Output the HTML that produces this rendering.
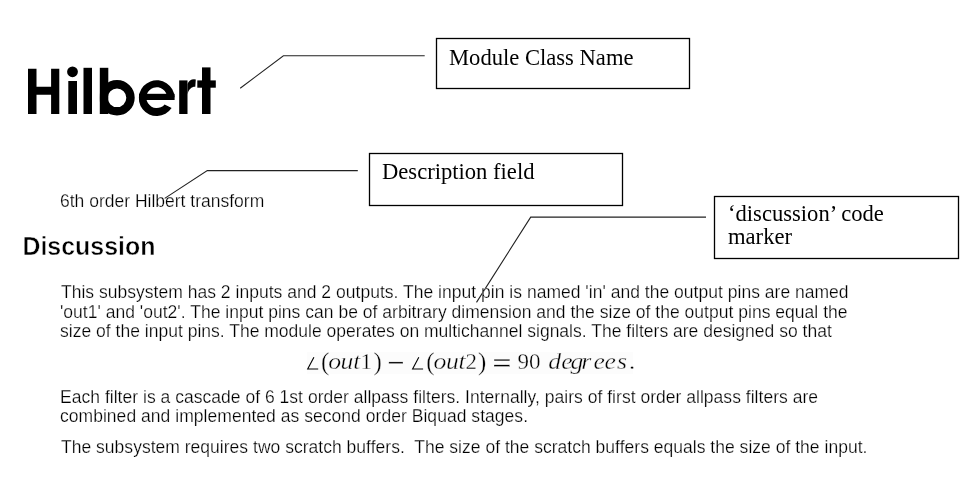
<!DOCTYPE html>
<html><head><meta charset="utf-8">
<style>
html,body{margin:0;padding:0;background:#fff;width:976px;height:492px;overflow:hidden}
svg{display:block;filter:grayscale(1)}
text{white-space:pre}
.s{font-family:"Liberation Sans",sans-serif}
.r{font-family:"Liberation Serif",serif}
</style></head><body>
<svg xml:space="preserve" width="976" height="492" viewBox="0 0 976 492">
<rect width="976" height="492" fill="#fff"/>
<!-- Hilbert title -->
<g fill="#000">
<path d="M28,68.8h8.5v18h14.6v-18h8.2v45.2h-8.2v-19.2h-14.6v19.2h-8.5z"/>
<circle cx="72.5" cy="71.8" r="5.4"/>
<rect x="68.3" y="81" width="8.7" height="33"/>
<rect x="83.5" y="67.8" width="8.5" height="46.2"/>
<rect x="99.8" y="67.8" width="8.5" height="46.2"/>
<clipPath id="cb"><rect x="99.8" y="60" width="40" height="60"/></clipPath><circle clip-path="url(#cb)" cx="117" cy="97.8" r="13.5" fill="none" stroke="#000" stroke-width="8.4"/>
<rect x="139" y="93.8" width="35.6" height="6.2"/>
<path d="M174.6,97.3A17.9,17.9 0 1 0 171.6,108.1L164.6,104.4A10.4,10.4 0 1 1 167.1,97.3Z"/>
<rect x="179.2" y="80.4" width="8.3" height="33.6"/>
<path d="M187.5,84C188.5,81 191,79.3 194,79.3L195.8,79.4L195.3,86.7C192,86.5 188.5,89 187.5,94.5Z"/>
<rect x="202" y="67.4" width="8.5" height="46.6"/>
<rect x="197.3" y="80.4" width="18.5" height="7.3"/>
</g>

<!-- boxes -->
<g fill="none" stroke="#000" stroke-width="1.3">
<rect x="436.5" y="38.5" width="253" height="50"/>
<rect x="369.5" y="153.5" width="253" height="52"/>
<rect x="714.5" y="196.5" width="244" height="62"/>
</g>
<g fill="none" stroke="#222" stroke-width="1.1">
<polyline points="240.2,88.2 283.4,55.8 424.7,55.8"/>
<polyline points="164.7,198.4 207.3,170.6 357.8,170.6"/>
<polyline points="476.5,302.4 530.7,217.1 706,217.1"/>
</g>
<text class="r" x="449" y="65" font-size="22.6">Module Class Name</text>
<text class="r" x="382" y="179" font-size="22.6">Description field</text>
<text class="r" x="728" y="220.5" font-size="22.6">‘discussion’ code</text>
<text class="r" x="728" y="244" font-size="22.6">marker</text>

<text class="s" x="60" y="207" font-size="17.5" stroke="#fff" stroke-width="0.25">6th order Hilbert transform</text>
<text class="s" x="22.4" y="254.9" font-size="26.3" font-weight="bold" stroke="#fff" stroke-width="0.5" textLength="133" lengthAdjust="spacingAndGlyphs">Discussion</text>

<g class="s" font-size="17.5" fill="#000" stroke="#fff" stroke-width="0.25">
<text x="61" y="298.3" textLength="787.6" lengthAdjust="spacing">This subsystem has 2 inputs and 2 outputs. The input pin is named 'in' and the output pins are named</text>
<text x="60" y="317.8" textLength="787.5" lengthAdjust="spacing">'out1' and 'out2'. The input pins can be of arbitrary dimension and the size of the output pins equal the</text>
<text x="60" y="337.3" textLength="771.8" lengthAdjust="spacing">size of the input pins. The module operates on multichannel signals. The filters are designed so that</text>
<text x="60" y="402.5" textLength="758" lengthAdjust="spacing">Each filter is a cascade of 6 1st order allpass filters. Internally, pairs of first order allpass filters are</text>
<text x="60" y="422" textLength="468" lengthAdjust="spacing">combined and implemented as second order Biquad stages.</text>
<text x="61" y="452.5" textLength="806.4" lengthAdjust="spacing">The subsystem requires two scratch buffers.  The size of the scratch buffers equals the size of the input.</text>
</g>

<!-- equation -->
<rect x="307" y="352" width="326" height="22" fill="#fcfcfc"/>
<g class="r" fill="#000" stroke="#fff" stroke-width="0.35">
<path d="M313.9,357.2L307.7,369L318.2,369" fill="none" stroke="#000" stroke-width="1.1"/>
<text x="321" y="369.5" font-size="25">(</text>
<text transform="translate(329.00 0) scale(1.120 1)" x="-0.62 10.36 21.61" y="368.80" font-size="23" font-style="italic">out</text>
<text x="360.5" y="368.8" font-size="23">1</text>
<text x="373.5" y="369.5" font-size="25">)</text>
<rect x="388.8" y="361.9" width="14.2" height="1.7"/>
<path d="M418.8,357.2L412.6,369L423.1,369" fill="none" stroke="#000" stroke-width="1.1"/>
<text x="426.2" y="369.5" font-size="25">(</text>
<text transform="translate(434.00 0) scale(1.120 1)" x="-0.36 10.62 21.87" y="368.80" font-size="23" font-style="italic">out</text>
<text x="465.5" y="368.8" font-size="23">2</text>
<text x="478" y="369.5" font-size="25">)</text>
<rect x="494" y="359.2" width="15.7" height="1.7"/>
<rect x="494" y="364.8" width="15.7" height="1.7"/>
<text x="517.5 529" y="368.8" font-size="23">90</text>
<text transform="translate(548.00 0) scale(1.120 1)" x="0.18 11.79 20.09 29.64 40.71 50.54 61.70 72.77" y="368.80" font-size="23" font-style="italic">degrees.</text>
</g>
</svg>
</body></html>
